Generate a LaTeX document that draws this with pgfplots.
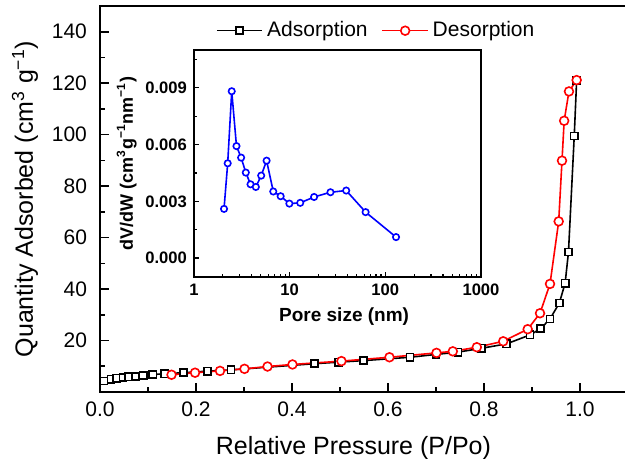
\documentclass[border=0pt]{standalone}
\usepackage{pgfplots}
\pgfplotsset{compat=1.18}
\usepackage{fontspec}
\setmainfont{Liberation Sans}
\begin{document}
\begin{tikzpicture}
\begin{axis}[
 at={(0,0)},anchor=south west,
 scale only axis,width=264pt,height=193pt,
 xmin=0,xmax=1.1,ymin=0,ymax=150,
 xtick={0,0.2,0.4,0.6,0.8,1.0},ytick={20,40,60,80,100,120,140},
 minor xtick={0.1,0.3,0.5,0.7,0.9},minor ytick={10,30,50,70,90,110,130},
 tick pos=left,tick align=inside,
 major tick length=4.5pt,minor tick length=2.6pt,
 axis line style={line width=0.8pt},
 every tick/.style={black,line width=0.8pt},
 /pgf/number format/assume math mode=true,
 ticklabel style={font=\fontsize{10.5}{12}\selectfont},
 xticklabel style={yshift=-1.5pt,/pgf/number format/.cd,fixed,fixed zerofill,precision=1},
 yticklabel style={xshift=-3pt},
 xlabel={Relative Pressure (P/Po)},
 ylabel={Quantity Adsorbed (cm\textsuperscript{3} g\textsuperscript{−1})},
 every axis x label/.style={at={(axis description cs:0.48,-0.163)},anchor=base,font=\fontsize{12.5}{15}\selectfont},
 every axis y label/.style={at={(axis description cs:-0.142,0.5)},rotate=90,anchor=center,font=\fontsize{12.5}{15}\selectfont},
 legend style={at={(0.525,0.936)},anchor=center,draw=none,fill=none,
   font=\fontsize{10.5}{12}\selectfont,
   /tikz/every even column/.append style={column sep=5pt}},
 legend columns=2,
 legend image code/.code={\draw[mark repeat=2,mark phase=2,#1] plot coordinates {(0cm,0cm) (0.4cm,0cm) (0.8cm,0cm)};},
]
\addplot[black,line width=0.8pt,mark=square*,mark size=1.8pt,mark options={fill=white,solid}]
 coordinates {(0.008,4.3) (0.023,5.0) (0.035,5.4) (0.048,5.6) (0.060,5.9) (0.074,6.1)
 (0.090,6.4) (0.110,6.8) (0.135,7.1) (0.174,7.5) (0.224,8.1) (0.273,8.6)
 (0.447,11.0) (0.497,11.6) (0.549,12.2) (0.646,13.5) (0.700,14.6) (0.746,15.5)
 (0.795,17.0) (0.847,18.7) (0.896,22.2) (0.918,24.6) (0.9375,28.4) (0.957,34.6)
 (0.969,42.3) (0.976,54.4) (0.988,99.5) (0.993,121.2)};
\addlegendentry{Adsorption}
\addplot[red,line width=0.8pt,mark=*,mark size=2.2pt,mark options={fill=white,solid}]
 coordinates {(0.993,121.2) (0.977,116.8) (0.967,105.4) (0.9625,89.9) (0.9556,66.3)
 (0.9375,42.0) (0.9167,30.6) (0.891,24.4) (0.840,19.7) (0.785,17.4) (0.735,15.8)
 (0.701,15.2) (0.603,13.5) (0.503,12.0) (0.401,10.7) (0.349,9.9) (0.301,9.0)
 (0.250,8.2) (0.198,7.5) (0.149,6.7)};
\addlegendentry{Desorption}
\end{axis}
\begin{axis}[
 at={(47pt,57.5pt)},anchor=south west,
 scale only axis,width=143.5pt,height=113.5pt,
 xmode=log,log basis x=10,log ticks with fixed point,
 xmin=1,xmax=1000,ymin=-0.001,ymax=0.011,
 ytick={0,0.003,0.006,0.009},minor ytick={0.0015,0.0045,0.0075,0.0105},
 scaled y ticks=false,
 tick pos=left,tick align=inside,
 major tick length=2.6pt,minor tick length=1.4pt,
 axis line style={line width=0.7pt},
 every tick/.style={black,line width=0.6pt},
 /pgf/number format/assume math mode=true,
 /pgf/number format/1000 sep={},
 ticklabel style={font=\fontsize{8.3}{10}\selectfont\bfseries},
 yticklabel style={/pgf/number format/.cd,fixed,fixed zerofill,precision=3},
 xlabel={Pore size (nm)},
 ylabel={dV/dW (cm\textsuperscript{3}g\textsuperscript{−1}nm\textsuperscript{−1})},
 every axis x label/.style={at={(axis description cs:0.523,-0.194)},anchor=base,font=\fontsize{9.5}{11}\selectfont\bfseries},
 every axis y label/.style={at={(axis description cs:-0.213,0.5)},rotate=90,anchor=base,font=\fontsize{9}{11}\selectfont\bfseries},
]
\addplot[blue,line width=0.8pt,mark=*,mark size=1.6pt,mark options={fill=white,solid}]
 coordinates {(2.06,0.0026) (2.25,0.00501) (2.48,0.00882) (2.78,0.00592) (3.11,0.00531)
 (3.48,0.00452) (3.90,0.00390) (4.43,0.00376) (5.04,0.00436) (5.74,0.00515)
 (6.74,0.00352) (8.05,0.00327) (9.93,0.00288) (12.9,0.00292) (18.0,0.00323)
 (26.7,0.00348) (39.0,0.00357) (62.2,0.00243) (129.4,0.00111)};
\end{axis}
\pgfresetboundingbox
\useasboundingbox (-50pt,-33.5pt) rectangle (262.5pt,196pt);
\end{tikzpicture}
\end{document}
